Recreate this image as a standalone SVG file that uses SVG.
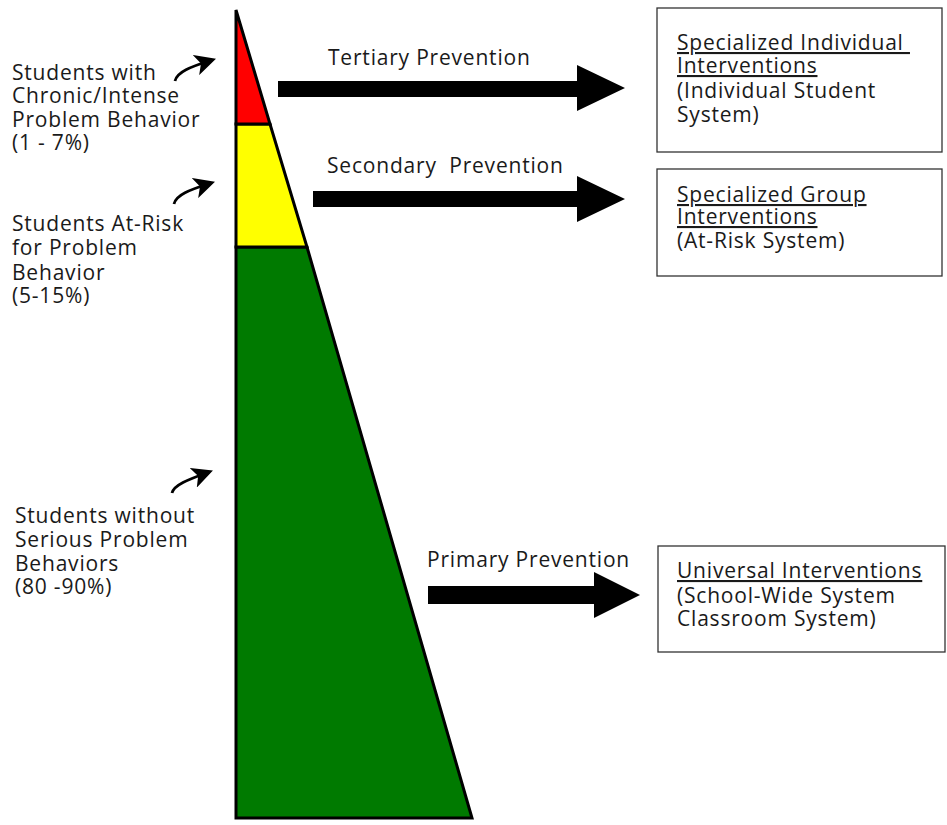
<svg xmlns="http://www.w3.org/2000/svg" width="947" height="825" viewBox="0 0 947 825">
<style>
text{font-family:"Open Sans","Liberation Sans",sans-serif;font-size:21px;letter-spacing:0.8px;fill:#1a1a1a}
.u{text-decoration:underline}
.box{fill:#fff;stroke:#333;stroke-width:1.3}
.tier{stroke:#000;stroke-width:3;stroke-linejoin:miter}
.big{fill:#000}
.small{fill:none;stroke:#000;stroke-width:2.8}
</style>
<defs>
<marker id="ah" viewBox="0 0 10 10" refX="8" refY="5" markerWidth="7.5" markerHeight="7.5" orient="auto" markerUnits="strokeWidth">
<path d="M0,0 L10,5 L0,10 L2.5,5 z" fill="#000"/>
</marker>
</defs>
<g id="pyramid">
<polygon id="green" class="tier" points="236,247 307,247 472,818 236,818" fill="#007a00"/>
<polygon id="yellow" class="tier" points="236,124 270,124 307,247 236,247" fill="#ffff00"/>
<polygon id="red" class="tier" points="236,10 270,124 236,124" fill="#ff0000"/>
</g>
<g id="connectors">
<polygon class="big" points="278,81 577,81 577,65 625,88 577,111 577,97 278,97"/>
<polygon class="big" points="313,191 577,191 577,176 625,199 577,222 577,207 313,207"/>
<polygon class="big" points="428,586 594,586 594,572 640,595 594,618 594,604 428,604"/>
<path class="small" d="M175,81 C177,72 190,67 212,60" marker-end="url(#ah)"/>
<path class="small" d="M174,204 C176,195 189,190 211,183" marker-end="url(#ah)"/>
<path class="small" d="M172,493 C174,485 187,480 209,472" marker-end="url(#ah)"/>
</g>
<g id="labels">
<text x="328" y="65">Tertiary Prevention</text>
<text x="327" y="173" xml:space="preserve">Secondary  Prevention</text>
<text x="427" y="567">Primary Prevention</text>
</g>
<g id="group-chronic">
<text x="12" y="80">Students with</text>
<text x="12" y="103">Chronic/Intense</text>
<text x="12" y="127">Problem Behavior</text>
<text x="12" y="150">(1 - 7%)</text>
</g>
<g id="group-atrisk">
<text x="12" y="231">Students At-Risk</text>
<text x="12" y="255">for Problem</text>
<text x="12" y="280">Behavior</text>
<text x="12" y="303">(5-15%)</text>
</g>
<g id="group-without">
<text x="15" y="523">Students without</text>
<text x="15" y="547">Serious Problem</text>
<text x="15" y="571">Behaviors</text>
<text x="15" y="594">(80 -90%)</text>
</g>
<g id="box-individual">
<rect class="box" x="657" y="8" width="285" height="144"/>
<text class="u" x="677" y="50" xml:space="preserve">Specialized Individual </text>
<text class="u" x="677" y="73">Interventions</text>
<text x="677" y="98">(Individual Student</text>
<text x="677" y="122">System)</text>
</g>
<g id="box-group">
<rect class="box" x="657" y="169" width="285" height="107"/>
<text class="u" x="677" y="202">Specialized Group</text>
<text class="u" x="677" y="224">Interventions</text>
<text x="677" y="248">(At-Risk System)</text>
</g>
<g id="box-universal">
<rect class="box" x="658" y="546" width="287" height="106"/>
<text class="u" x="677" y="578">Universal Interventions</text>
<text x="677" y="603">(School-Wide System</text>
<text x="677" y="626">Classroom System)</text>
</g>
</svg>
